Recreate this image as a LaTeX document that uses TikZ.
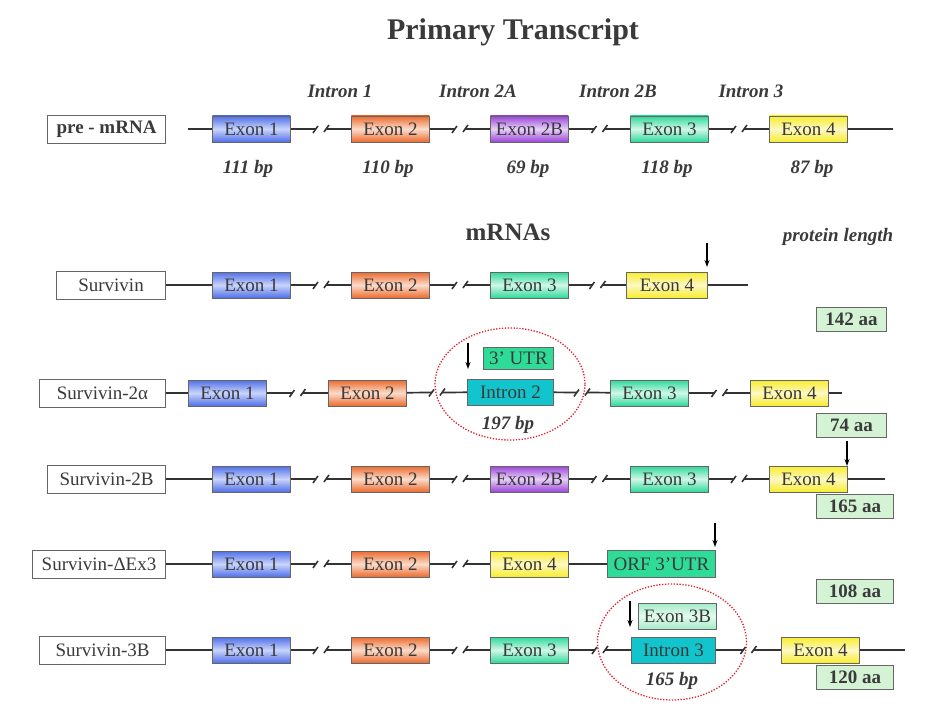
\documentclass[tikz,border=0pt]{standalone}
\usepackage{fontspec}
\setmainfont{Liberation Serif}
\usetikzlibrary{shapes.geometric,calc,arrows.meta}
\definecolor{txtc}{HTML}{3A3A3A}
\definecolor{boxc}{HTML}{666666}
\definecolor{linec}{HTML}{333333}
\definecolor{cA}{HTML}{4F6FE8}\definecolor{cAl}{HTML}{C9D4FA}
\definecolor{cB}{HTML}{EC6A2C}\definecolor{cBl}{HTML}{FBDCCB}
\definecolor{cC}{HTML}{9B45D9}\definecolor{cCl}{HTML}{E6D0F7}
\definecolor{cD}{HTML}{2ED99A}\definecolor{cDl}{HTML}{D0F7E8}
\definecolor{cE}{HTML}{F8EC2A}\definecolor{cEl}{HTML}{FDF8C4}
\definecolor{cF}{HTML}{A5EBC8}\definecolor{cFl}{HTML}{E4FAEE}
\definecolor{cint}{HTML}{12C4CC}
\definecolor{cutr}{HTML}{2EDC98}
\definecolor{aafill}{HTML}{D4F2D4}
\definecolor{ellc}{HTML}{E0202A}
\newcommand\splitgap[2]{%
  \coordinate (#1-#2-a) at ($(#1.east)!0.5!(#2.west)+(-5,0)$);
  \coordinate (#1-#2-b) at ($(#1.east)!0.5!(#2.west)+(5,0)$);
  \draw[ln] (#1) -- (#1-#2-a);
  \draw[ln] (#1-#2-b) -- (#2);
  \draw[tick] ($(#1-#2-a)+(-3,4)$) -- ($(#1-#2-a)+(2,-3)$);
  \draw[tick] ($(#1-#2-b)+(-2,3)$) -- ($(#1-#2-b)+(3,-4)$);
}
\begin{document}
\begin{tikzpicture}[x=1pt,y=-1pt,
  txt/.style={font=\fontsize{19}{21}\selectfont, text=txtc},
  bbox/.style={draw=boxc, line width=0.9pt, minimum height=26, inner sep=0pt, txt},
  exon/.style={bbox, minimum width=78, anchor=west},
  exA/.style={exon, top color=cA, bottom color=cA, middle color=cAl},
  exB/.style={exon, top color=cB, bottom color=cB, middle color=cBl},
  exC/.style={exon, top color=cC, bottom color=cC, middle color=cCl},
  exD/.style={exon, top color=cD, bottom color=cD, middle color=cDl},
  exE/.style={exon, top color=cE, bottom color=cE, middle color=cEl},
  exF/.style={exon, top color=cF, bottom color=cF, middle color=cFl},
  intr/.style={bbox, anchor=west, fill=cint},
  utr/.style={bbox, anchor=west, fill=cutr},
  lab/.style={bbox, fill=white, minimum height=28, anchor=east},
  aa/.style={bbox, fill=aafill, minimum height=24, anchor=west, font=\fontsize{19}{21}\selectfont\bfseries},
  ital/.style={font=\fontsize{19}{21}\selectfont\bfseries\itshape, text=txtc},
  ln/.style={draw=linec, line width=1.7pt},
  tick/.style={draw=linec, line width=1.6pt},
  darr/.style={draw=black, line width=1.3pt, -{Stealth[length=7pt,width=5pt]}},
  oval/.style={ellipse, draw=ellc, line width=1.3pt, dash pattern=on 1.3pt off 1.6pt, inner sep=0pt}
]
\useasboundingbox (0,0) rectangle (929,706);

% title and headings
\node[font=\fontsize{30}{32}\selectfont\bfseries, text=txtc] (title) at (513,32) {Primary Transcript};
\node[font=\fontsize{25}{27}\selectfont\bfseries, text=txtc] (mrnas) at (508,232) {mRNAs};
\node[ital] (plen) at (838,237) {protein length};

% ---------- pre-mRNA ----------
\node[lab, minimum width=118, font=\fontsize{19}{21}\selectfont\bfseries] (pL) at (166,129) {pre - mRNA};
\coordinate (pS) at (188,129);
\node[exA] (p1) at (212,129) {Exon 1};
\node[exB] (p2) at (351,129) {Exon 2};
\node[exC] (p2b) at (490,129) {Exon 2B};
\node[exD] (p3) at (630,129) {Exon 3};
\node[exE] (p4) at (769,129) {Exon 4};
\coordinate (pE) at (893,129);
\draw[ln] (pS) -- (p1);
\splitgap{p1}{p2}\splitgap{p2}{p2b}\splitgap{p2b}{p3}\splitgap{p3}{p4}
\draw[ln] (p4) -- (pE);
\node[ital] (i1) at (340,91) {Intron 1};
\node[ital] (i2a) at (478,91) {Intron 2A};
\node[ital] (i2b) at (618,91) {Intron 2B};
\node[ital] (i3) at (751,91) {Intron 3};
\node[ital] (b1) at (248,169) {111 bp};
\node[ital] (b2) at (388,169) {110 bp};
\node[ital] (b2b) at (528,169) {69 bp};
\node[ital] (b3) at (667,169) {118 bp};
\node[ital] (b4) at (812,169) {87 bp};

% ---------- Survivin ----------
\node[lab, minimum width=109] (sL) at (166,285) {Survivin\hspace{20pt}};
\node[exA] (s1) at (212,285) {Exon 1};
\node[exB] (s2) at (351,285) {Exon 2};
\node[exD] (s3) at (490,285) {Exon 3};
\node[exE, minimum width=81] (s4) at (626,285) {Exon 4};
\coordinate (sE) at (748,285);
\draw[ln] (sL) -- (s1);
\splitgap{s1}{s2}\splitgap{s2}{s3}\splitgap{s3}{s4}
\draw[ln] (s4) -- (sE);
\coordinate (sa1) at (707,243);
\coordinate (sa2) at (707,267);
\draw[darr] (sa1) -- (sa2);
\node[aa, minimum width=70] (saa) at (816,319) {142 aa};

% ---------- Survivin-2alpha ----------
\node[oval, minimum width=150, minimum height=112] (ov1) at (510,384) {};
\node[lab, minimum width=126] (aL) at (166,393) {Survivin-2α};
\node[exA] (a1) at (188,393) {Exon 1};
\node[exB] (a2) at (328,393) {Exon 2};
\node[intr, minimum width=86] (ai) at (467,392) {Intron 2};
\node[exD] (a3) at (610,393) {Exon 3};
\node[exE] (a4) at (750,393) {Exon 4};
\coordinate (aE) at (842,393);
\draw[ln] (aL) -- (a1);
\splitgap{a1}{a2}\splitgap{a2}{ai}\splitgap{ai}{a3}\splitgap{a3}{a4}
\draw[ln] (a4) -- (aE);
\node[utr, minimum width=70, minimum height=22] (autr) at (483,358) {3' UTR};
\coordinate (aa1) at (468,343);
\coordinate (aa2) at (468,369);
\draw[darr] (aa1) -- (aa2);
\node[ital] (abp) at (508,425) {197 bp};
\node[aa, minimum width=70] (aaa) at (816,425) {74 aa};

% ---------- Survivin-2B ----------
\node[lab, minimum width=118] (bL) at (166,479) {Survivin-2B};
\node[exA] (c1) at (212,479) {Exon 1};
\node[exB] (c2) at (351,479) {Exon 2};
\node[exC] (c2b) at (490,479) {Exon 2B};
\node[exD] (c3) at (630,479) {Exon 3};
\node[exE] (c4) at (769,479) {Exon 4};
\coordinate (cE) at (885,479);
\draw[ln] (bL) -- (c1);
\splitgap{c1}{c2}\splitgap{c2}{c2b}\splitgap{c2b}{c3}\splitgap{c3}{c4}
\draw[ln] (c4) -- (cE);
\coordinate (ca1) at (847,441);
\coordinate (ca2) at (847,466);
\draw[darr] (ca1) -- (ca2);
\node[aa, minimum width=77] (caa) at (816,506) {165 aa};

% ---------- Survivin-DeltaEx3 ----------
\node[lab, minimum width=133] (dL) at (166,564) {Survivin-ΔEx3};
\node[exA] (d1) at (212,564) {Exon 1};
\node[exB] (d2) at (351,564) {Exon 2};
\node[exE] (d4) at (490,564) {Exon 4};
\node[utr, minimum width=108, minimum height=27] (dorf) at (607,564) {ORF 3'UTR};
\draw[ln] (dL) -- (d1);
\splitgap{d1}{d2}\splitgap{d2}{d4}
\draw[ln] (d4) -- (dorf);
\coordinate (da1) at (715,523);
\coordinate (da2) at (715,547);
\draw[darr] (da1) -- (da2);
\node[aa, minimum width=77] (daa) at (816,591) {108 aa};

% ---------- Survivin-3B ----------
\node[oval, minimum width=149, minimum height=116] (ov2) at (672,642) {};
\node[lab, minimum width=126] (eL) at (166,650) {Survivin-3B};
\node[exA] (e1) at (212,650) {Exon 1};
\node[exB] (e2) at (351,650) {Exon 2};
\node[exD] (e3) at (490,650) {Exon 3};
\node[intr, minimum width=84] (ei) at (631,650) {Intron 3};
\node[exE] (e4) at (781,650) {Exon 4};
\coordinate (eE) at (905,650);
\draw[ln] (eL) -- (e1);
\splitgap{e1}{e2}\splitgap{e2}{e3}\splitgap{e3}{ei}\splitgap{ei}{e4}
\draw[ln] (e4) -- (eE);
\node[exF] (e3b) at (638,616) {Exon 3B};
\coordinate (ea1) at (630,601);
\coordinate (ea2) at (630,627);
\draw[darr] (ea1) -- (ea2);
\node[ital] (ebp) at (672,681) {165 bp};
\node[aa, minimum width=77] (eaa) at (816,677) {120 aa};
\end{tikzpicture}
\end{document}
